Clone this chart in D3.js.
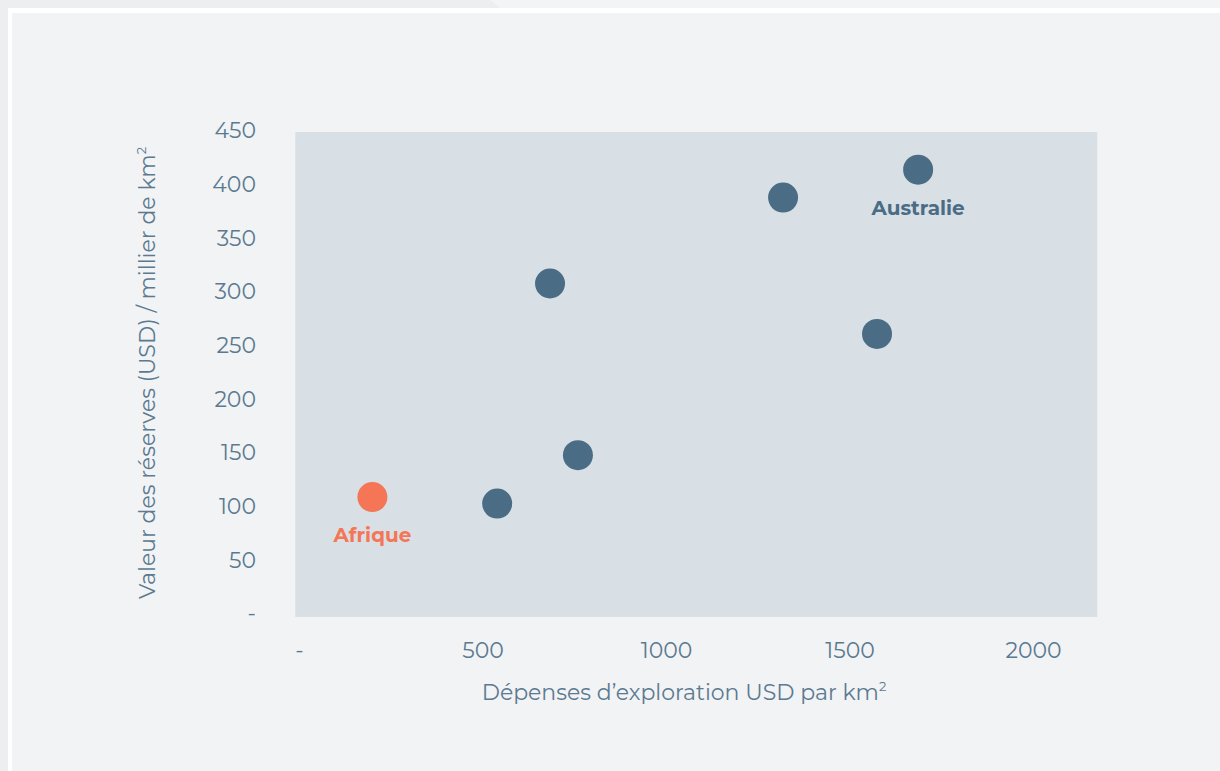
<!DOCTYPE html>
<html>
<head>
<meta charset="utf-8">
<script src="https://cdn.jsdelivr.net/npm/d3@7"></script>
<style>
  html, body { margin: 0; padding: 0; background: #edeef0; }
  svg { display: block; }
</style>
</head>
<body>
<svg id="chart" width="1220" height="771"></svg>
<script>
// data
const spend = [200, 540, 684, 760, 1319, 1575, 1687];
const reserves = [108, 102, 307, 147, 387, 260, 413];
const names = ["Afrique", "", "", "", "", "", "Australie"];
const y_ticks = [0, 50, 100, 150, 200, 250, 300, 350, 400, 450];
const x_ticks = [0, 500, 1000, 1500, 2000];

const svg = d3.select("#chart");
const font = "Montserrat, 'Open Sans', Lato, sans-serif";
const text_color = "#5b7a90";

// page frame
svg.append("path").attr("d", "M490,0H1220V8H500Z").attr("fill", "#f3f4f6");
svg.append("rect").attr("x", 8).attr("y", 8).attr("width", 1230).attr("height", 800).attr("fill", "#ffffff");
svg.append("rect").attr("x", 12).attr("y", 13).attr("width", 1230).attr("height", 800).attr("fill", "#f2f3f5");

let x_scale = d3.scaleLinear().domain([0, 2000]).range([299, 1033]);
let y_scale = d3.scaleLinear().domain([0, 450]).range([613, 130]);

// plot background
svg.append("rect")
    .attr("x", x_scale(-10)).attr("y", 132)
    .attr("width", x_scale(2175) - x_scale(-10)).attr("height", 617 - 132)
    .attr("fill", "#d8dfe5");

const fmt = d => d === 0 ? "-" : String(d);

let y_axis = d3.axisLeft(y_scale).tickValues(y_ticks).tickFormat(fmt).tickSize(0).tickPadding(0);
let y_axis_group = svg.append("g").attr("transform", "translate(256, 0)").call(y_axis);

let x_axis = d3.axisBottom(x_scale).tickValues(x_ticks).tickFormat(fmt).tickSize(0).tickPadding(0);
let x_axis_group = svg.append("g").attr("transform", "translate(0, 642)").call(x_axis);

[y_axis_group, x_axis_group].forEach(g => {
    g.select(".domain").remove();
    g.selectAll("text")
        .attr("fill", text_color)
        .style("font-family", font)
        .style("font-size", "22px");
});
y_axis_group.selectAll("text").attr("dy", "0.35em");
x_axis_group.selectAll("text").attr("dy", "0.71em");

// axis titles
svg.append("text")
    .attr("x", 684).attr("y", 700)
    .attr("text-anchor", "middle")
    .attr("fill", text_color)
    .style("font-family", font).style("font-size", "22px")
    .html("Dépenses d’exploration USD par km<tspan dy='-9' font-size='13'>2</tspan>");

svg.append("text")
    .attr("transform", "translate(155, 373) rotate(-90)")
    .attr("text-anchor", "middle")
    .attr("fill", text_color)
    .style("font-family", font).style("font-size", "22px")
    .html("Valeur des réserves (USD) / millier de km<tspan dy='-9' font-size='13'>2</tspan>");

// points
const points = spend.map((d, i) => ({ x: d, y: reserves[i], name: names[i] }));
const color = d => d.name === "Afrique" ? "#f47656" : "#4b6c85";

svg.append("g")
    .selectAll("circle")
    .data(points)
    .join("circle")
    .attr("cx", d => x_scale(d.x))
    .attr("cy", d => y_scale(d.y))
    .attr("r", 15)
    .attr("fill", color);

svg.append("g")
    .selectAll("text")
    .data(points.filter(d => d.name))
    .join("text")
    .attr("x", d => x_scale(d.x))
    .attr("y", d => y_scale(d.y) + 45)
    .attr("text-anchor", "middle")
    .attr("fill", color)
    .style("font-family", font)
    .style("font-size", "20px")
    .style("font-weight", "bold")
    .text(d => d.name);
</script>
</body>
</html>
